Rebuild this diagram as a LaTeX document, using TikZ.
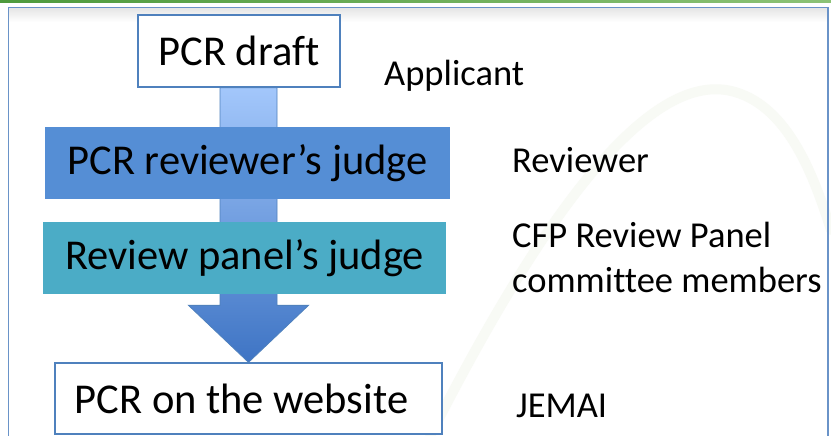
\documentclass[tikz,border=0pt]{standalone}
\usepackage{fontspec}
\setmainfont{Carlito}[Ligatures=NoCommon]
\usetikzlibrary{calc}
\definecolor{boxline}{HTML}{4F81BD}
\definecolor{revfill}{HTML}{558ED5}
\definecolor{panfill}{HTML}{4BACC6}
\definecolor{framec}{HTML}{6A93C8}
\definecolor{greenband}{HTML}{4E9A3D}
\definecolor{greenlight}{HTML}{8CC276}
\definecolor{arrtop}{HTML}{A3C7FB}
\definecolor{arrmid}{HTML}{7FA8E6}
\definecolor{arrbot}{HTML}{3E74C4}
\definecolor{swoosh}{HTML}{F8FAF5}
\tikzset{
  x=1pt, y=-1pt,
  whitebox/.style={draw=boxline, line width=1.3pt, fill=white, inner sep=0pt,
    font=\fontsize{42.5}{50}\selectfont},
  fillbox/.style={draw=none, inner sep=0pt, font=\fontsize{42.5}{50}\selectfont},
  rolelabel/.style={anchor=base west, inner sep=0pt, font=\fontsize{36.5}{45}\selectfont, align=left},
}
\begin{document}
\begin{tikzpicture}
\useasboundingbox (0,0) rectangle (831,436);
\fill[white] (0,0) rectangle (831,436);
% top green band
\shade[left color=greenband, right color=greenlight] (0,0) rectangle (831,3);
% faint background swoosh
\draw[swoosh, line width=10pt, line cap=round]
  (430,436) .. controls (560,180) and (660,70) .. (735,92) .. controls (790,108) and (815,180) .. (831,230);
% frame inner shadow
\shade[top color=black!10, bottom color=white] (9,8) rectangle (828,22);
% frame
\draw[framec, line width=1.2pt] (8.5,445) -- (8.5,7.5) -- (828,7.5) -- (828,445);

% nodes
\node[whitebox, minimum width=202pt, minimum height=72pt] (draft) at (239,51) {PCR draft};
\node[whitebox, minimum width=387pt, minimum height=71pt, text depth=0pt] (web) at (248.5,398.5) {\hspace*{-14pt}PCR on the website};

% arrow (behind the filled boxes)
\coordinate (tip) at (web.north);
\coordinate (top) at (web.north |- draft.south);
\shade[top color=arrtop, middle color=arrmid, bottom color=arrbot, draw=boxline, line width=0.8pt]
  ($(top)+(-28.5,0)$) -- ($(tip)+(-28.5,-57)$) -- ($(tip)+(-60,-57)$) -- (tip)
  -- ($(tip)+(60,-57)$) -- ($(tip)+(28.5,-57)$) -- ($(top)+(28.5,0)$) -- cycle;
\draw[boxline, line width=1.3pt] (draft.south west) -- (draft.south east);

\node[fillbox, fill=revfill, minimum width=405pt, minimum height=72pt] (rev) at (247.5,163) {PCR reviewer’s judge};
\node[fillbox, fill=panfill, minimum width=403pt, minimum height=72pt] (pan) at (244.5,258) {Review panel’s judge};

% role labels
\node[rolelabel] (lapp) at (384,86) {Applicant};
\node[rolelabel] (lrev) at (512,172) {Reviewer};
\node[rolelabel] (lpan1) at (512,247) {CFP Review Panel};
\node[rolelabel] (lpan2) at (512,292) {committee members};
\node[rolelabel] (ljem) at (516,417) {JEMAI};
\end{tikzpicture}
\end{document}
